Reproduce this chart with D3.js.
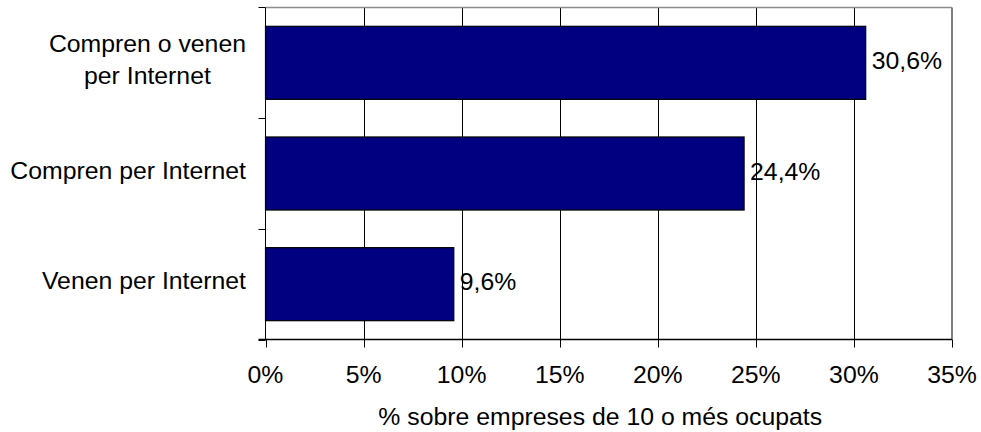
<!DOCTYPE html>
<html>
<head>
<meta charset="utf-8">
<script src="https://cdn.jsdelivr.net/npm/d3@7/dist/d3.min.js"></script>
<style>
  html, body { margin: 0; padding: 0; background: #fff; }
  svg { display: block; }
  text { font-family: "Liberation Sans", Arial, sans-serif; fill: #000; }
</style>
</head>
<body>
<svg id="chart" width="981" height="432"></svg>
<script>
const categories = [["Compren o venen", "per Internet"], ["Compren per Internet"], ["Venen per Internet"]];
const values = [30.6, 24.4, 9.6];
const valueLabels = ["30,6%", "24,4%", "9,6%"];
const xTicks = [0, 5, 10, 15, 20, 25, 30, 35];
const xTickLabels = ["0%", "5%", "10%", "15%", "20%", "25%", "30%", "35%"];
const xTitle = "% sobre empreses de 10 o més ocupats";

(function () {
const svg = d3.select("#chart");
const pL = 265.5, pR = 952, pT = 7.5, pB = 339.5;
const fs = 24.8;

const x = d3.scaleLinear().domain([0, 35]).range([pL, pR]);
const keys = categories.map((c, i) => i);
const y = d3.scaleBand().domain(keys).range([pT, pB]).paddingInner(0.34).paddingOuter(0.17);
const step = y.step();

// gridlines
svg.append("g").selectAll("line").data(xTicks.slice(1, -1)).join("line")
  .attr("x1", d => Math.round(x(d)) + 0.5).attr("x2", d => Math.round(x(d)) + 0.5)
  .attr("y1", pT).attr("y2", pB)
  .attr("stroke", "#000").attr("stroke-width", 1);

// top and right border
svg.append("line").attr("x1", pL).attr("x2", pR).attr("y1", pT).attr("y2", pT)
  .attr("stroke", "#8c8c8c").attr("stroke-width", 1.5);
svg.append("line").attr("x1", pR).attr("x2", pR).attr("y1", pT).attr("y2", pB)
  .attr("stroke", "#808080").attr("stroke-width", 2);

// bars
svg.append("g").selectAll("rect").data(values).join("rect")
  .attr("x", x(0))
  .attr("y", (d, i) => y(i))
  .attr("width", d => x(d) - x(0))
  .attr("height", y.bandwidth())
  .attr("fill", "#000080")
  .attr("stroke", "#000").attr("stroke-width", 1.2);

// value labels
svg.append("g").selectAll("text").data(values).join("text")
  .attr("x", d => x(d) + 6)
  .attr("y", (d, i) => y(i) + y.bandwidth() / 2 + 6)
  .attr("font-size", fs)
  .text((d, i) => valueLabels[i]);

// left axis
svg.append("line").attr("x1", pL).attr("x2", pL).attr("y1", pT).attr("y2", pB)
  .attr("stroke", "#000").attr("stroke-width", 1);
const bounds = keys.map(k => y(k) - step * 0.17).concat([pB]);
svg.append("g").selectAll("line").data(bounds).join("line")
  .attr("x1", pL - 7).attr("x2", pL)
  .attr("y1", d => Math.round(d) + 0.5).attr("y2", d => Math.round(d) + 0.5)
  .attr("stroke", "#000").attr("stroke-width", 1);

// bottom axis
svg.append("line").attr("x1", pL - 7).attr("x2", pR).attr("y1", pB).attr("y2", pB)
  .attr("stroke", "#000").attr("stroke-width", 1.3);
svg.append("g").selectAll("line").data(xTicks).join("line")
  .attr("x1", d => Math.round(x(d)) + 0.5).attr("x2", d => Math.round(x(d)) + 0.5)
  .attr("y1", pB).attr("y2", pB + 8)
  .attr("stroke", "#000").attr("stroke-width", 1);
svg.append("g").selectAll("text").data(xTicks).join("text")
  .attr("x", d => x(d)).attr("y", 383)
  .attr("text-anchor", "middle").attr("font-size", fs)
  .text((d, i) => xTickLabels[i]);

// x title
svg.append("text").attr("x", (pL + pR) / 2 - 8.5).attr("y", 425)
  .attr("text-anchor", "middle").attr("font-size", fs).text(xTitle);

// category labels
const labelRight = 246;
const lineH = 32;
categories.forEach((lines, i) => {
  const g = svg.append("g");
  const cy = y(i) + y.bandwidth() / 2;
  const ts = lines.map((ln, j) => g.append("text")
    .attr("font-size", fs)
    .attr("text-anchor", "middle")
    .attr("y", cy + 5 + (j - (lines.length - 1) / 2) * lineH)
    .text(ln));
  const maxW = d3.max(ts, t => t.node().getComputedTextLength());
  ts.forEach(t => t.attr("x", labelRight - maxW / 2));
});
})();
</script>
</body>
</html>
